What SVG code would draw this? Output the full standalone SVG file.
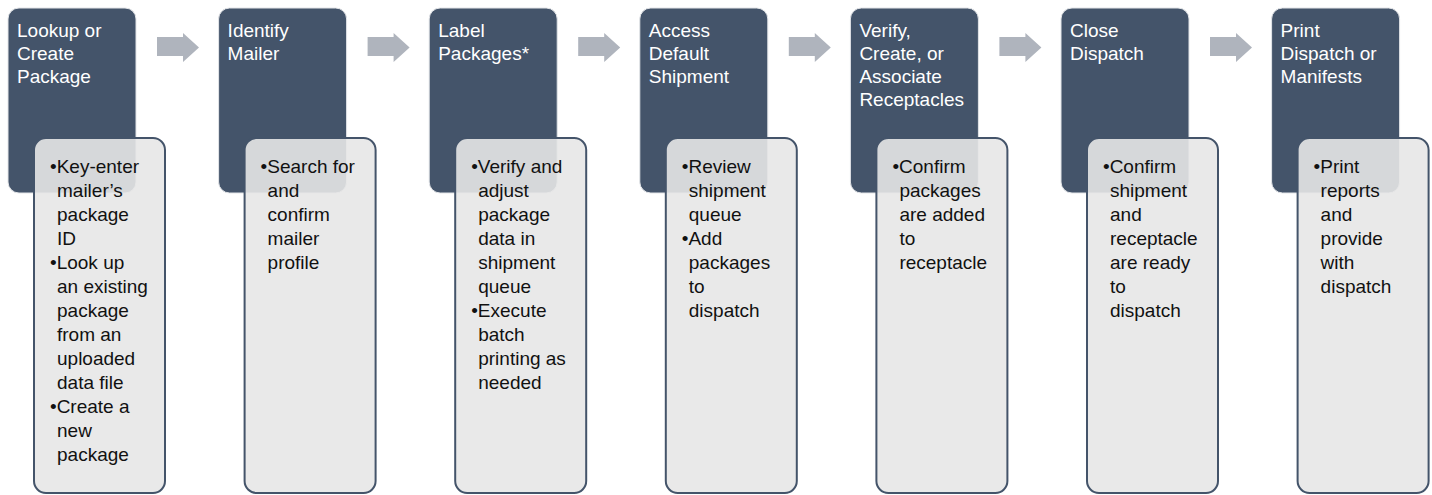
<svg xmlns="http://www.w3.org/2000/svg" width="1432" height="495" viewBox="0 0 1432 495">
<style>
.hd{fill:#44546a;stroke:#e3e5e8;stroke-width:1}
.bd{fill:#e7e7e7;fill-opacity:0.9;stroke:#44546a;stroke-width:2}
.ht{font-family:"Liberation Sans",Arial,sans-serif;font-size:19px;fill:#ffffff}
.bt{font-family:"Liberation Sans",Arial,sans-serif;font-size:19px;fill:#111111}
.ar{fill:#afb4bd}
</style>
<rect width="1432" height="495" fill="#ffffff"/>
<g id="connectors">
<polygon class="ar" points="157,37 183,37 183,33 199,47.5 183,62 183,56 157,56"/>
<polygon class="ar" transform="translate(210.6,0)" points="157,37 183,37 183,33 199,47.5 183,62 183,56 157,56"/>
<polygon class="ar" transform="translate(421.2,0)" points="157,37 183,37 183,33 199,47.5 183,62 183,56 157,56"/>
<polygon class="ar" transform="translate(631.8,0)" points="157,37 183,37 183,33 199,47.5 183,62 183,56 157,56"/>
<polygon class="ar" transform="translate(842.4,0)" points="157,37 183,37 183,33 199,47.5 183,62 183,56 157,56"/>
<polygon class="ar" transform="translate(1053,0)" points="157,37 183,37 183,33 199,47.5 183,62 183,56 157,56"/>
</g>
<g id="node1">
<rect class="hd" x="8" y="8" width="128" height="185" rx="11"/>
<text class="ht"><tspan x="17" y="36.5">Lookup or</tspan><tspan x="17" y="59.5">Create</tspan><tspan x="17" y="82.5">Package</tspan></text>
<rect class="bd" x="34" y="138" width="131" height="355" rx="12"/>
<text class="bt"><tspan x="50" y="173">•Key-enter</tspan><tspan x="57" y="197">mailer’s</tspan><tspan x="57" y="221">package</tspan><tspan x="57" y="245">ID</tspan><tspan x="50" y="269">•Look up</tspan><tspan x="57" y="293">an existing</tspan><tspan x="57" y="317">package</tspan><tspan x="57" y="341">from an</tspan><tspan x="57" y="365">uploaded</tspan><tspan x="57" y="389">data file</tspan><tspan x="50" y="413">•Create a</tspan><tspan x="57" y="437">new</tspan><tspan x="57" y="461">package</tspan></text>
</g>
<g id="node2" transform="translate(210.6,0)">
<rect class="hd" x="8" y="8" width="128" height="185" rx="11"/>
<text class="ht"><tspan x="17" y="36.5">Identify</tspan><tspan x="17" y="59.5">Mailer</tspan></text>
<rect class="bd" x="34" y="138" width="131" height="355" rx="12"/>
<text class="bt"><tspan x="50" y="173">•Search for</tspan><tspan x="57" y="197">and</tspan><tspan x="57" y="221">confirm</tspan><tspan x="57" y="245">mailer</tspan><tspan x="57" y="269">profile</tspan></text>
</g>
<g id="node3" transform="translate(421.2,0)">
<rect class="hd" x="8" y="8" width="128" height="185" rx="11"/>
<text class="ht"><tspan x="17" y="36.5">Label</tspan><tspan x="17" y="59.5">Packages*</tspan></text>
<rect class="bd" x="34" y="138" width="131" height="355" rx="12"/>
<text class="bt"><tspan x="50" y="173">•Verify and</tspan><tspan x="57" y="197">adjust</tspan><tspan x="57" y="221">package</tspan><tspan x="57" y="245">data in</tspan><tspan x="57" y="269">shipment</tspan><tspan x="57" y="293">queue</tspan><tspan x="50" y="317">•Execute</tspan><tspan x="57" y="341">batch</tspan><tspan x="57" y="365">printing as</tspan><tspan x="57" y="389">needed</tspan></text>
</g>
<g id="node4" transform="translate(631.8,0)">
<rect class="hd" x="8" y="8" width="128" height="185" rx="11"/>
<text class="ht"><tspan x="17" y="36.5">Access</tspan><tspan x="17" y="59.5">Default</tspan><tspan x="17" y="82.5">Shipment</tspan></text>
<rect class="bd" x="34" y="138" width="131" height="355" rx="12"/>
<text class="bt"><tspan x="50" y="173">•Review</tspan><tspan x="57" y="197">shipment</tspan><tspan x="57" y="221">queue</tspan><tspan x="50" y="245">•Add</tspan><tspan x="57" y="269">packages</tspan><tspan x="57" y="293">to</tspan><tspan x="57" y="317">dispatch</tspan></text>
</g>
<g id="node5" transform="translate(842.4,0)">
<rect class="hd" x="8" y="8" width="128" height="185" rx="11"/>
<text class="ht"><tspan x="17" y="36.5">Verify,</tspan><tspan x="17" y="59.5">Create, or</tspan><tspan x="17" y="82.5">Associate</tspan><tspan x="17" y="105.5">Receptacles</tspan></text>
<rect class="bd" x="34" y="138" width="131" height="355" rx="12"/>
<text class="bt"><tspan x="50" y="173">•Confirm</tspan><tspan x="57" y="197">packages</tspan><tspan x="57" y="221">are added</tspan><tspan x="57" y="245">to</tspan><tspan x="57" y="269">receptacle</tspan></text>
</g>
<g id="node6" transform="translate(1053,0)">
<rect class="hd" x="8" y="8" width="128" height="185" rx="11"/>
<text class="ht"><tspan x="17" y="36.5">Close</tspan><tspan x="17" y="59.5">Dispatch</tspan></text>
<rect class="bd" x="34" y="138" width="131" height="355" rx="12"/>
<text class="bt"><tspan x="50" y="173">•Confirm</tspan><tspan x="57" y="197">shipment</tspan><tspan x="57" y="221">and</tspan><tspan x="57" y="245">receptacle</tspan><tspan x="57" y="269">are ready</tspan><tspan x="57" y="293">to</tspan><tspan x="57" y="317">dispatch</tspan></text>
</g>
<g id="node7" transform="translate(1263.6,0)">
<rect class="hd" x="8" y="8" width="128" height="185" rx="11"/>
<text class="ht"><tspan x="17" y="36.5">Print</tspan><tspan x="17" y="59.5">Dispatch or</tspan><tspan x="17" y="82.5">Manifests</tspan></text>
<rect class="bd" x="34" y="138" width="131" height="355" rx="12"/>
<text class="bt"><tspan x="50" y="173">•Print</tspan><tspan x="57" y="197">reports</tspan><tspan x="57" y="221">and</tspan><tspan x="57" y="245">provide</tspan><tspan x="57" y="269">with</tspan><tspan x="57" y="293">dispatch</tspan></text>
</g>
</svg>
